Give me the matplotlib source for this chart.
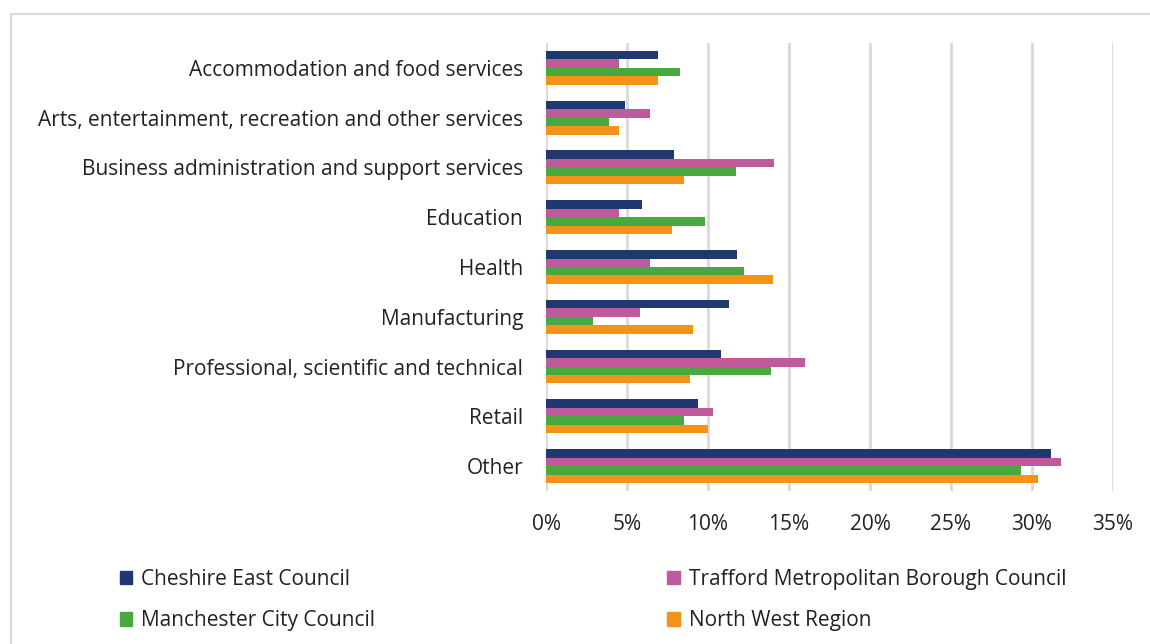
import matplotlib
matplotlib.use("Agg")
import matplotlib.pyplot as plt
import matplotlib.patches as mpatches
import numpy as np

plt.rcParams["font.family"] = ["Open Sans", "DejaVu Sans"]

# Data (share of employment, %)
sectors = [
    "Accommodation and food services",
    "Arts, entertainment, recreation and other services",
    "Business administration and support services",
    "Education",
    "Health",
    "Manufacturing",
    "Professional, scientific and technical",
    "Retail",
    "Other",
]
cheshire_east = [6.9, 4.9, 7.9, 5.9, 11.8, 11.3, 10.8, 9.4, 31.2]
trafford = [4.5, 6.4, 14.1, 4.5, 6.4, 5.8, 16.0, 10.3, 31.8]
manchester = [8.3, 3.9, 11.7, 9.8, 12.2, 2.9, 13.9, 8.5, 29.3]
north_west = [6.9, 4.5, 8.5, 7.8, 14.0, 9.1, 8.9, 10.0, 30.4]

series = [
    ("Cheshire East Council", cheshire_east, "#1F3870"),
    ("Trafford Metropolitan Borough Council", trafford, "#BF5B9C"),
    ("Manchester City Council", manchester, "#48AA3E"),
    ("North West Region", north_west, "#F59218"),
]

fig = plt.figure(figsize=(11.5, 6.44), dpi=100)
ax = fig.add_axes([0.4748, 0.2376, 0.4930, 0.6957])

y = np.arange(len(sectors))
h = 0.17
for i, (name, vals, col) in enumerate(series):
    ax.barh(y + (i - 1.5) * h, vals, height=h, color=col, label=name, zorder=3)

ax.set_ylim(len(sectors) - 0.5, -0.5)
ax.set_xlim(0, 35)
ax.set_xticks(np.arange(0, 36, 5))
ax.set_xticklabels([f"{v}%" for v in range(0, 36, 5)])
ax.set_yticks(y)
ax.set_yticklabels(sectors)
ax.tick_params(axis="both", length=0, labelsize=15, colors="#222222")
ax.tick_params(axis="y", pad=16.5)
ax.tick_params(axis="x", pad=16.5)
for s in ax.spines.values():
    s.set_visible(False)
ax.grid(axis="x", color="#d9d9d9", linewidth=2, zorder=0)

# legend
handles = [mpatches.Patch(color=c, label=n) for n, _, c in series]
order = [0, 2, 1, 3]
fig.legend([handles[k] for k in order], [series[k][0] for k in order],
           ncol=2, loc="lower left", bbox_to_anchor=(0.0877, -0.0093),
           frameon=False, fontsize=15, handlelength=0.6, handleheight=0.6,
           handletextpad=0.45, columnspacing=14.0, labelspacing=0.99,
           labelcolor="#222222")

# outer border
fig.patches.append(mpatches.Rectangle((11 / 1150, -0.05), 1.2, 1 - 14 / 644 + 0.05,
                                      transform=fig.transFigure, fill=False,
                                      edgecolor="#d9d9d9", linewidth=1.5))

fig.savefig("out.png", dpi=100)
